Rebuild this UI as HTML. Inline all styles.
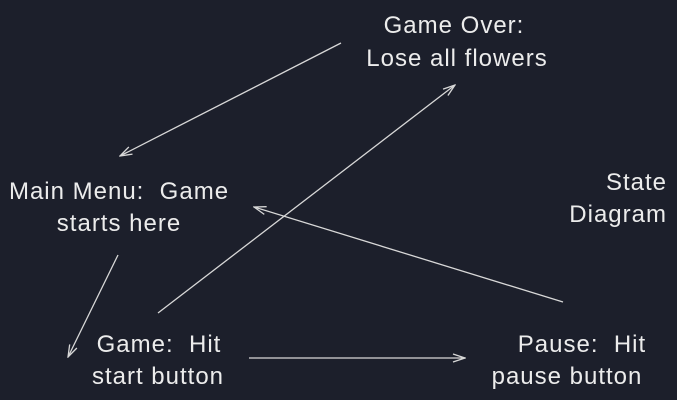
<!DOCTYPE html>
<html><head><meta charset="utf-8"><style>
html,body{margin:0;padding:0;background:#1c1f2b;}
svg{display:block}
text{font-family:"Liberation Sans",sans-serif;font-size:24px;letter-spacing:1px;fill:#ececec;white-space:pre;}
</style></head><body>
<svg width="677" height="400" viewBox="0 0 677 400" xmlns="http://www.w3.org/2000/svg" xml:space="preserve">
<rect width="677" height="400" fill="#1c1f2b"/>
<defs><marker id="a" markerWidth="14" markerHeight="10" refX="13" refY="5" orient="auto" markerUnits="userSpaceOnUse"><path d="M1,1 L13,5 L1,9" fill="none" stroke="#d8d8d8" stroke-width="1.3"/></marker></defs>
<g stroke="#d8d8d8" stroke-width="1.3" fill="none" marker-end="url(#a)">
<line x1="341" y1="43" x2="120" y2="156"/>
<line x1="118" y1="255" x2="68" y2="357"/>
<line x1="158" y1="313" x2="455" y2="85"/>
<line x1="563" y1="302" x2="254" y2="207"/>
<line x1="249" y1="358" x2="465" y2="358"/>
</g>
<g text-anchor="middle">
<text x="454" y="33">Game Over:</text>
<text x="457" y="66">Lose all flowers</text>
<text x="119" y="199">Main Menu:&#160; Game</text>
<text x="119" y="231">starts here</text>
<text x="159" y="352">Game:&#160; Hit</text>
<text x="158" y="384">start button</text>
<text x="582" y="352">Pause:&#160; Hit</text>
<text x="567" y="384">pause button</text>
</g>
<g text-anchor="end">
<text x="667" y="190">State</text>
<text x="667" y="222">Diagram</text>
</g>
</svg>
</body></html>
